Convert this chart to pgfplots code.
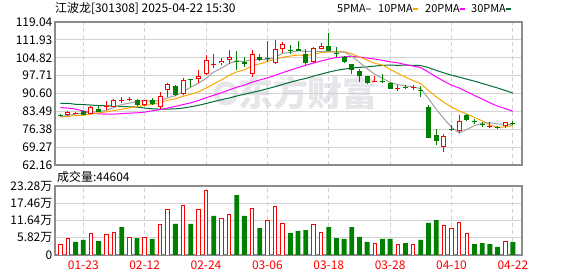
\documentclass[border=0pt]{standalone}
\usepackage{pgfplots}
\pgfplotsset{compat=1.18}
\usepackage{pgfplotstable}
\usepackage{fontspec}
\setmainfont{Noto Sans CJK SC}
\definecolor{kred}{RGB}{255,0,0}
\definecolor{kgreen}{RGB}{0,128,0}
\definecolor{ma5}{RGB}{160,160,160}
\definecolor{ma10}{RGB}{255,165,0}
\definecolor{ma20}{RGB}{255,0,255}
\definecolor{ma30}{RGB}{0,110,50}
\definecolor{gridc}{RGB}{210,210,210}
\definecolor{framec}{RGB}{140,140,140}
\definecolor{wm}{RGB}{229,229,234}

% red (up) candles
\pgfplotstableread{
x O H L C
1 82.1 83.6 81.7 83.1
2 82.6 83.3 82.4 83.0
4 82.6 85.7 82.4 85.4
6 85.3 87.5 83.9 85.7
7 85.4 88.3 85.1 88.1
8 87.8 89.4 86.9 88.2
9 88.2 89.1 87.5 88.6
11 85.9 88.1 85.6 87.9
13 85.4 91.0 84.4 89.8
14 91.8 94.7 89.4 94.3
16 90.3 96.8 89.9 96.0
18 96.3 100.0 94.6 97.6
19 98.2 105.8 98.0 103.8
20 102.1 106.2 100.6 102.5
21 102.6 104.6 102.0 103.7
22 103.8 107.9 102.2 105.0
25 98.2 107.9 97.1 106.2
28 102.6 111.9 102.2 108.2
29 108.4 111.0 106.6 110.3
33 103.2 109.2 102.6 108.6
34 108.4 110.6 108.2 109.6
41 95.1 97.6 95.1 95.5
44 92.5 93.9 91.5 92.9
46 92.7 93.9 91.9 93.1
50 69.3 74.6 67.2 73.6
52 75.5 82.1 74.8 79.7
56 77.3 79.4 77.0 77.7
58 77.5 79.4 76.9 79.2
}\redc

% green (down) candles
\pgfplotstableread{
x O H L C
0 82.2 82.6 81.5 81.8
3 83.6 84.0 81.9 82.2
5 84.5 85.7 83.3 83.4
10 88.1 88.6 85.7 86.2
12 88.1 88.7 86.0 86.5
15 93.4 93.8 89.6 89.9
17 96.2 96.4 93.3 95.8
23 103.6 107.6 100.0 103.2
24 103.3 105.0 101.3 102.4
26 105.0 106.2 103.6 103.9
27 104.6 111.3 103.3 104.2
30 108.0 109.9 106.2 107.6
31 108.4 111.5 107.6 107.7
32 106.3 108.2 101.8 102.9
35 109.5 114.8 107.5 107.5
36 106.9 109.0 105.3 106.5
37 105.3 105.5 102.6 103.3
38 102.2 102.2 98.4 100.0
39 99.6 100.2 95.2 97.7
40 97.7 97.7 94.3 94.8
42 95.6 98.4 94.7 95.2
43 94.9 95.3 92.2 92.5
45 93.2 93.9 92.2 92.6
47 91.8 93.5 89.3 91.4
48 85.3 86.1 73.0 73.0
49 74.0 76.4 70.3 71.9
51 76.6 78.1 75.7 76.2
53 82.0 82.3 79.8 80.1
54 79.8 80.6 78.6 79.4
55 78.5 79.4 77.1 78.1
57 77.3 77.8 76.6 76.9
59 78.9 79.6 78.0 78.5
}\greenc

% moving averages
\pgfplotstableread{
x ma5 ma10 ma20 ma30
0 81.4 81.2 85.0 86.7
1 81.9 81.5 84.8 86.7
2 82.4 81.8 84.4 86.3
3 82.8 82.0 83.6 86.2
4 83.1 82.4 82.9 86.0
5 83.4 82.9 82.5 85.8
6 83.9 83.3 82.4 85.7
7 85.0 83.8 82.4 85.6
8 86.2 84.3 82.6 85.4
9 86.8 84.9 82.8 85.3
10 87.4 85.4 82.9 85.2
11 87.8 85.9 83.2 84.8
12 87.5 86.2 83.7 84.5
13 87.8 87.0 84.2 84.4
14 88.9 87.9 84.8 84.4
15 89.7 88.5 85.5 84.5
16 91.3 89.5 86.2 84.8
17 93.1 90.3 86.9 85.3
18 94.7 91.2 87.8 85.9
19 96.6 92.8 88.9 86.6
20 99.1 94.4 89.9 87.4
21 100.7 96.0 90.9 88.1
22 102.5 97.8 92.0 88.8
23 103.6 99.2 93.1 89.6
24 103.3 100.0 93.9 90.3
25 104.1 101.6 95.1 91.0
26 104.1 102.4 96.0 91.7
27 104.0 103.3 96.8 92.5
28 105.0 104.3 97.8 93.3
29 106.6 105.0 98.9 94.2
30 106.9 105.5 99.9 95.1
31 107.6 105.9 100.9 95.9
32 107.3 105.7 101.8 96.6
33 107.4 106.2 102.7 97.5
34 107.3 106.9 103.5 98.3
35 107.3 107.1 104.3 99.1
36 107.0 107.3 104.9 99.8
37 107.1 107.2 105.2 100.3
38 105.4 106.4 105.4 100.7
39 103.0 105.1 105.1 101.0
40 100.5 103.9 104.7 101.2
41 98.2 102.6 104.3 101.5
42 96.6 101.9 103.8 101.8
43 95.1 100.2 103.2 101.9
44 94.1 98.6 102.8 101.8
45 93.7 97.1 102.1 101.9
46 93.2 95.7 101.5 101.8
47 92.5 94.5 100.9 101.7
48 88.6 91.8 99.1 100.9
49 84.4 89.3 97.2 99.8
50 80.6 87.1 95.5 98.8
51 77.2 85.2 93.9 97.9
52 74.9 83.7 92.8 97.1
53 76.3 82.4 91.3 96.3
54 77.8 81.1 89.8 95.5
55 78.8 79.7 88.4 94.6
56 79.0 78.1 86.9 93.7
57 78.5 77.2 85.6 92.8
58 78.3 77.3 84.6 91.8
59 78.1 77.9 83.6 90.8
}\matab

% volume (10k shares), red = up, green = down
\pgfplotstableread{
x v
0 3.7
1 5.4
4 7.3
6 7.0
7 7.6
9 6.0
11 6.0
13 10.3
14 15.4
16 16.8
18 15.4
19 21.6
21 12.4
22 13.7
25 15.7
27 11.5
28 16.4
29 10.7
33 10.3
34 7.6
41 3.9
44 3.6
46 3.6
50 10.0
51 8.8
52 11.1
53 7.3
58 4.4
}\redv

\pgfplotstableread{
x v
2 4.4
3 5.1
5 4.7
8 9.4
10 5.7
12 5.4
15 10.5
17 10.5
20 13.2
23 20.2
24 13.2
26 9.1
30 7.4
31 8.1
32 8.4
35 9.4
36 5.7
37 5.4
38 9.4
39 6.1
40 4.4
42 5.4
43 5.4
45 4.0
47 5.1
48 10.8
49 11.8
54 3.7
55 4.0
56 3.7
57 2.7
59 4.4604
}\greenv

\pgfplotsset{
  panel/.style={
    scale only axis, width=467bp, xmin=-0.69, xmax=60.19,
    axis line style={framec, line width=1.2bp},
    tick style={draw=none},
    xtick={3,11,19,27,35,43,51,59},
    xmajorgrids, ymajorgrids,
    x grid style={gridc, line width=1bp, dash pattern=on 4bp off 3bp},
    y grid style={gridc, line width=1bp},
    /pgf/number format/assume math mode=true,
    tick label style={font=\fontsize{12}{14}\selectfont, text=black},
    yticklabel style={inner sep=0pt, xshift=-2.5bp},
    anchor=south west,
  },
  wick/.style={draw=none, mark=none, forget plot,
    error bars/.cd, y dir=plus, y explicit, error mark=none,
    error bar style={draw=#1, line width=1bp}},
  body/.style 2 args={draw=none, mark=none, forget plot,
    error bars/.cd, y dir=plus, y explicit, error mark=none,
    error bar style={draw=#1, line width=#2, line cap=butt}},
}

\begin{document}
\begin{tikzpicture}
\useasboundingbox (0,0) rectangle (578bp,276bp);

% watermark
\draw[wm, line width=5bp] (226bp,182.5bp) circle (9.5bp);
\node[anchor=west, text=wm, font=\fontsize{35}{35}\selectfont\bfseries, inner sep=0pt] at (238bp,182.5bp) {东方财富};

% title
\node[anchor=west, inner sep=0pt, font=\fontsize{12}{14}\selectfont] at (55bp,267.5bp) {江波龙[301308] 2025-04-22 15:30};

% legend
\begin{scope}[every node/.style={anchor=west, inner sep=0pt, font=\fontsize{11}{13}\selectfont}]
\node at (337bp,267bp) {5PMA};
\draw[ma5, line width=2bp] (366bp,267bp) -- (371bp,267bp);
\node at (378bp,267bp) {10PMA};
\draw[ma10, line width=2bp] (413bp,267bp) -- (418bp,267bp);
\node at (425bp,267bp) {20PMA};
\draw[ma20, line width=2bp] (460bp,267bp) -- (465bp,267bp);
\node at (471bp,267bp) {30PMA};
\draw[ma30, line width=2bp] (506bp,267bp) -- (511bp,267bp);
\end{scope}

% volume caption
\node[anchor=west, inner sep=0pt, font=\fontsize{12}{14}\selectfont] at (57bp,99bp) {成交量:44604};

% price panel
\begin{axis}[panel, at={(55bp,111bp)}, height=143bp,
  ymin=62.16, ymax=119.04,
  ytick={62.16,69.27,76.38,83.49,90.60,97.71,104.82,111.93,119.04},
  yticklabels={62.16,69.27,76.38,83.49,90.60,97.71,104.82,111.93,119.04},
  xticklabels={}]
  \addplot[ma30, line width=1bp, mark=none] table[x=x, y=ma30]{\matab};
  \addplot[ma20, line width=1bp, mark=none] table[x=x, y=ma20]{\matab};
  \addplot[ma10, line width=1bp, mark=none] table[x=x, y=ma10]{\matab};
  \addplot[ma5, line width=1bp, mark=none] table[x=x, y=ma5]{\matab};
  % wicks
  \addplot[wick=kred] table[x=x, y=L, y error plus expr=\thisrow{H}-\thisrow{L}]{\redc};
  \addplot[wick=kgreen] table[x=x, y=L, y error plus expr=\thisrow{H}-\thisrow{L}]{\greenc};
  % bodies
  \addplot[body={kred}{5bp}] table[x=x, y=O, y error plus expr=\thisrow{C}-\thisrow{O}]{\redc};
  \addplot[body={white}{3bp}] table[x=x, y expr=\thisrow{O}+0.4, y error plus expr={max(\thisrow{C}-\thisrow{O}-0.8,0)}]{\redc};
  \addplot[body={kgreen}{5bp}] table[x=x, y=C, y error plus expr=\thisrow{O}-\thisrow{C}]{\greenc};
\end{axis}

% volume panel
\begin{axis}[panel, at={(55bp,21bp)}, height=69bp,
  ymin=0, ymax=23.28,
  ytick={0,5.82,11.64,17.46,23.28},
  yticklabels={0,5.82万,11.64万,17.46万,23.28万},
  xticklabels={01-23,02-12,02-24,03-06,03-18,03-28,04-10,04-22},
  xticklabel style={text=kred, inner sep=0pt, yshift=-6bp}]
  \addplot[ybar, bar width=3.6bp, bar shift=0pt, draw=kred, fill=white, line width=1bp] table[x=x, y=v]{\redv};
  \addplot[ybar, bar width=4.8bp, bar shift=0pt, draw=none, fill=kgreen] table[x=x, y=v]{\greenv};
\end{axis}
\end{tikzpicture}
\end{document}
